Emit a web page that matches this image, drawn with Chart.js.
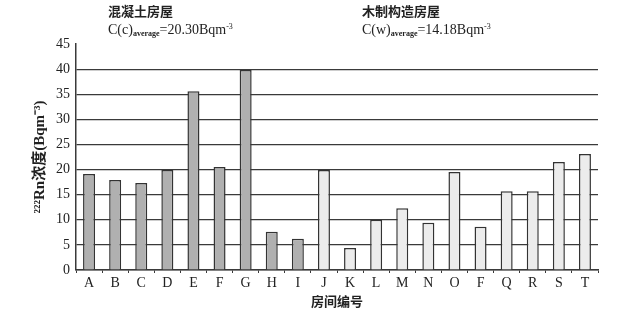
<!DOCTYPE html>
<html>
<head>
<meta charset="utf-8">
<script src="https://cdn.jsdelivr.net/npm/chart.js@4"></script>
<style>
  html, body { margin: 0; padding: 0; background: #fff; }
  #wrap { position: relative; width: 617px; height: 318px; }
  .note { position: absolute; font-family: "Liberation Serif", "Noto Sans CJK SC", serif; color: #222; line-height: 16px; }
  .note .cn { font-family: "Noto Sans CJK SC", sans-serif; font-weight: bold; font-size: 13px; }
  .note .eq { font-size: 14px; }
  .note sub { font-size: 8px; font-weight: bold; vertical-align: -2px; }
  .note sup { font-size: 8px; vertical-align: 5px; }
</style>
</head>
<body>
<div id="wrap">
  <canvas id="chart" width="617" height="318"></canvas>
  <div class="note" style="left:108px; top:3px;">
    <div class="cn">混凝土房屋</div>
    <div class="eq">C(c)<sub>average</sub>=20.30Bqm<sup>-3</sup></div>
  </div>
  <div class="note" style="left:362px; top:3px;">
    <div class="cn">木制构造房屋</div>
    <div class="eq">C(w)<sub>average</sub>=14.18Bqm<sup>-3</sup></div>
  </div>
</div>
<script>
// Data
const roomLabels = ['A', 'B', 'C', 'D', 'E', 'F', 'G', 'H', 'I', 'J',
                    'K', 'L', 'M', 'N', 'O', 'F', 'Q', 'R', 'S', 'T'];
const radonValues = [19.1, 17.9, 17.3, 19.9, 35.6, 20.5, 39.8, 7.6, 6.2, 19.9,
                     4.4, 10.0, 12.3, 9.4, 19.5, 8.6, 15.7, 15.7, 21.5, 23.1];
// c = concrete house, w = wooden house
const houseTypes = ['c', 'c', 'c', 'c', 'c', 'c', 'c', 'c', 'c', 'w',
                    'w', 'w', 'w', 'w', 'w', 'w', 'w', 'w', 'w', 'w'];
const yTicks = [0, 5, 10, 15, 20, 25, 30, 35, 40, 45];

const colors = {
    concrete: '#b0b0b0',
    wood: '#ececec',
    border: '#333333',
    grid: '#3a3a3a',
    text: '#222222'
};

const serif = '"Liberation Serif", "Noto Sans CJK SC", serif';

const ctx = document.getElementById('chart').getContext('2d');

new Chart(ctx, {
    type: 'bar',
    data: {
        labels: roomLabels,
        datasets: [{
            data: radonValues,
            backgroundColor: houseTypes.map(t => t === 'c' ? colors.concrete : colors.wood),
            borderColor: colors.border,
            borderWidth: 1.5,
            categoryPercentage: 1,
            barPercentage: 0.46
        }]
    },
    options: {
        responsive: false,
        animation: false,
        layout: { padding: { top: 44, right: 19, bottom: 9, left: 31 } },
        plugins: {
            legend: { display: false },
            tooltip: { enabled: false }
        },
        scales: {
            x: {
                grid: {
                    drawOnChartArea: false,
                    offset: true,
                    tickLength: 3,
                    color: colors.grid
                },
                border: { color: colors.grid, width: 1.5 },
                ticks: {
                    color: colors.text,
                    font: { family: serif, size: 14 },
                    padding: 2
                },
                title: {
                    display: true,
                    text: '房间编号',
                    color: colors.text,
                    font: { family: '"Noto Sans CJK SC", sans-serif', size: 13, weight: 'bold' },
                    padding: { top: 2, bottom: 0 }
                },
                afterFit: scale => { scale.height = 39; }
            },
            y: {
                min: 0,
                max: 45,
                afterBuildTicks: scale => {
                    scale.ticks = yTicks.map(v => ({ value: v }));
                },
                grid: {
                    color: c => c.tick && c.tick.value === 45 ? 'rgba(0,0,0,0)' : colors.grid,
                    lineWidth: 1.2,
                    drawTicks: false
                },
                border: { color: colors.grid, width: 1.5 },
                ticks: {
                    color: colors.text,
                    font: { family: serif, size: 14 },
                    padding: 6
                },
                title: {
                    display: true,
                    text: '²²²Rn浓度(Bqm⁻³)',
                    color: colors.text,
                    font: { family: serif, size: 15, weight: 'bold' },
                    padding: { top: 0, bottom: 0 }
                },
                afterFit: scale => { scale.width = 45; }
            }
        }
    }
});
</script>
</body>
</html>
